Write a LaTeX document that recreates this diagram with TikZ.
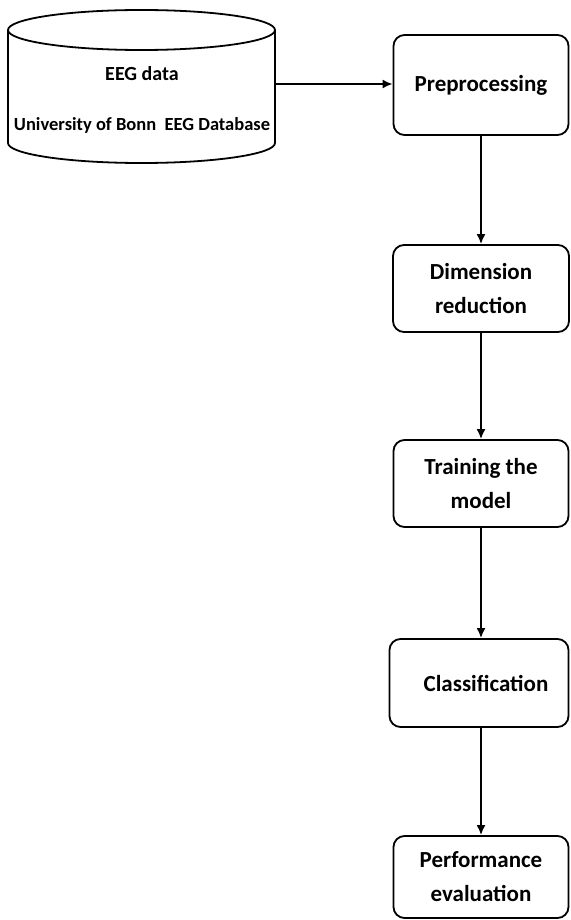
\documentclass[tikz,border=0pt]{standalone}
\usepackage{fontspec}
\setmainfont{Carlito}
\usetikzlibrary{arrows.meta}
\begin{document}
\begin{tikzpicture}[x=1pt,y=-1pt,
  stepbox/.style={draw,line width=1.8pt,rounded corners=11pt,align=center,
    font=\fontsize{23}{34}\selectfont\bfseries,inner sep=0pt},
  dbtext/.style={align=center,font=\fontsize{18.5}{50}\selectfont\bfseries,inner sep=0pt},
  arr/.style={line width=1.8pt,-{Latex[length=10pt,width=9pt]}}]
\useasboundingbox (0,0) rectangle (570,920);
% database cylinder
\draw[line width=1.8pt] (141.5,30) ellipse [x radius=133.5pt, y radius=20pt];
\draw[line width=1.8pt] (8,30) -- (8,143) arc [start angle=180, end angle=360, x radius=133.5pt, y radius=20pt] -- (275,30);
\node[dbtext] (db) at (142,100) {{\fontsize{20}{20}\selectfont EEG data}\\University of Bonn\ \ EEG Database};
\coordinate (dbout) at (275,84);
% steps
\node[stepbox,minimum width=175pt,minimum height=100pt] (pre) at (481,85) {Preprocessing};
\node[stepbox,minimum width=176pt,minimum height=87pt] (dim) at (481,288.5) {Dimension\\reduction};
\node[stepbox,minimum width=175pt,minimum height=87pt] (tra) at (481,483.5) {Training the\\model};
\node[stepbox,minimum width=179pt,minimum height=88pt] (cla) at (479,683) {\hspace*{14pt}Classification};
\node[stepbox,minimum width=175pt,minimum height=82pt] (per) at (481,877) {Performance\\evaluation};
% connectors
\draw[arr] (dbout) -- (dbout -| pre.west);
\draw[arr] (pre.south) -- (dim.north);
\draw[arr] (dim.south) -- (tra.north);
\draw[arr] (tra.south) -- (tra.south |- cla.north);
\draw[arr] (tra.south |- cla.south) -- (tra.south |- per.north);
\end{tikzpicture}
\end{document}
